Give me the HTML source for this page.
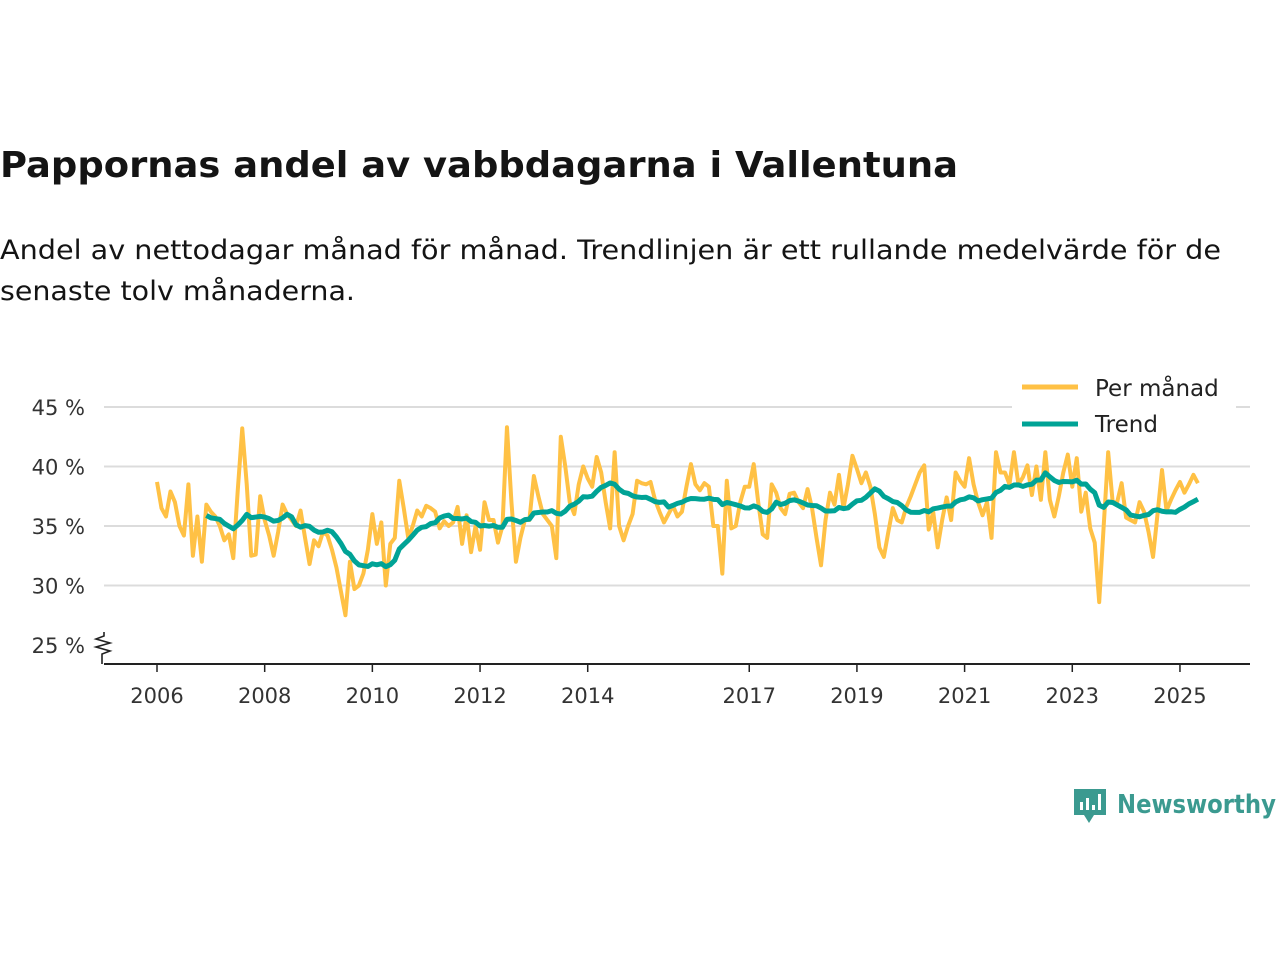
<!DOCTYPE html>
<html><head><meta charset="utf-8"><style>
html,body{margin:0;padding:0;background:#fff;}
svg text{font-family:"DejaVu Sans","Liberation Sans",sans-serif;}
</style></head><body>
<svg id="chart" width="1280" height="960" viewBox="0 0 1280 960" xmlns="http://www.w3.org/2000/svg">
<text x="0" y="177" font-size="36" font-weight="bold" fill="#141414" textLength="958" lengthAdjust="spacingAndGlyphs">Pappornas andel av vabbdagarna i Vallentuna</text>
<text x="0" y="259" font-size="27" fill="#141414" textLength="1221" lengthAdjust="spacingAndGlyphs">Andel av nettodagar månad för månad. Trendlinjen är ett rullande medelvärde för de</text>
<text x="0" y="300" font-size="27" fill="#141414" textLength="355" lengthAdjust="spacingAndGlyphs">senaste tolv månaderna.</text>
<g id="grid"></g>
<g id="yticks"></g>
<g id="xticks"></g>
<g id="series"></g>
<g>
<rect x="1012" y="368" width="224" height="72" fill="#fff"/>
<line x1="1022" y1="387" x2="1078" y2="387" stroke="#ffc145" stroke-width="5"/>
<text x="1095" y="396" font-size="23" fill="#222">Per månad</text>
<line x1="1022" y1="424" x2="1078" y2="424" stroke="#00a396" stroke-width="5"/>
<text x="1095" y="432" font-size="23" fill="#222">Trend</text>
</g>
<g>
<path d="M1074 789 h32 v26 h-12 l-5 8 l-5 -8 h-10 z" fill="#3b9a90"/>
<rect x="1080" y="802" width="3" height="8" fill="#fff"/><rect x="1086" y="798" width="3" height="12" fill="#fff"/><rect x="1092" y="805" width="3" height="5" fill="#fff"/><rect x="1098" y="794" width="3" height="16" fill="#fff"/>
<text x="1117" y="813" font-size="26" font-weight="bold" fill="#3b9a90" textLength="159" lengthAdjust="spacingAndGlyphs">Newsworthy</text>
</g>
</svg>
<script>
const yTickValues=[25,30,35,40,45];
const xTickYears=[2006,2008,2010,2012,2014,2017,2019,2021,2023,2025];
const startYear=2006;
const monthly=[
38.7,36.5,35.8,37.9,37.0,35.0,34.2,38.5,32.5,35.8,32.0,36.8,
36.2,35.8,35.0,33.8,34.3,32.3,38.0,43.2,38.5,32.5,32.6,37.5,
35.5,34.2,32.5,34.5,36.8,36.0,35.5,35.0,36.3,34.0,31.8,33.8,
33.3,34.5,34.2,33.0,31.5,29.5,27.5,32.0,29.7,30.0,31.0,33.0,
36.0,33.5,35.3,30.0,33.5,34.0,38.8,36.5,34.0,35.0,36.3,35.8,
36.7,36.5,36.2,34.8,35.4,35.0,35.3,36.6,33.5,35.9,32.8,35.0,
33.0,37.0,35.5,35.5,33.6,35.0,43.3,37.0,32.0,34.0,35.5,35.5,
39.2,37.5,36.0,35.5,35.0,32.3,42.5,40.0,37.0,36.0,38.5,40.0,
39.0,38.3,40.8,39.5,37.0,34.8,41.2,35.0,33.8,35.0,36.0,38.8,
38.6,38.5,38.7,37.2,36.2,35.3,36.0,36.7,35.8,36.2,38.3,40.2,
38.5,38.0,38.6,38.3,35.0,35.0,31.0,38.8,34.8,35.0,37.0,38.3,
38.3,40.2,37.0,34.3,34.0,38.5,37.8,36.5,36.0,37.7,37.8,37.0,
36.5,38.1,36.5,34.0,31.7,35.5,37.8,36.8,39.3,36.5,38.5,40.9,
39.8,38.6,39.5,38.3,36.0,33.2,32.4,34.5,36.5,35.5,35.3,36.6,
37.5,38.5,39.5,40.1,34.7,36.2,33.2,35.5,37.4,35.5,39.5,38.8,
38.3,40.7,38.5,37.0,35.9,37.0,34.0,41.2,39.5,39.5,38.5,41.2,
38.5,39.1,40.1,37.6,40.0,37.2,41.2,37.2,35.8,37.5,39.5,41.0,
38.3,40.7,36.2,37.8,34.8,33.6,28.6,35.0,41.2,37.0,37.0,38.6,
35.7,35.5,35.3,37.0,36.2,34.5,32.4,36.0,39.7,36.3,37.2,38.0,
38.7,37.8,38.5,39.3,38.6];
const NS="http://www.w3.org/2000/svg";
function xScale(t){return 157+(t-2006)*53.84;}
function yScale(v){return 645-(v-25)*11.9;}
function mk(tag,attrs,parent){const e=document.createElementNS(NS,tag);for(const k in attrs)e.setAttribute(k,attrs[k]);parent.appendChild(e);return e;}
const grid=document.getElementById('grid'),yt=document.getElementById('yticks'),xt=document.getElementById('xticks'),ser=document.getElementById('series');
yTickValues.forEach(v=>{
  if(v>25){const g=mk('line',{x1:104,x2:1250,y1:yScale(v),y2:yScale(v),stroke:'#dcdcdc','stroke-width':2},grid);
  
  }
  const t=mk('text',{x:85,y:yScale(v)+8,'font-size':21,fill:'#333','text-anchor':'end'},yt);t.textContent=v+' %';
  
  
});
const zz=mk('path',{d:'M104 632 v4 l-8 3 l14 4 l-14 4 l14 4 l-8 3 v10',fill:'none',stroke:'#222','stroke-width':1.6},yt);


const ax=mk('line',{x1:104,x2:1250,y1:664,y2:664,stroke:'#222','stroke-width':2},xt);


xTickYears.forEach(y=>{
  const x=xScale(y);
  mk('line',{x1:x,x2:x,y1:664,y2:672,stroke:'#222','stroke-width':1.5},xt);
  const t=mk('text',{x:x,y:703,'font-size':21,fill:'#333','text-anchor':'middle'},xt);t.textContent=y;
  
  
});
const pts=monthly.map((v,i)=>[xScale(startYear+i/12),yScale(v)]);
const p1=mk('polyline',{points:pts.map(p=>p.join(',')).join(' '),fill:'none',stroke:'#ffc145','stroke-width':4,'stroke-linejoin':'round'},ser);


const tp=[];
for(let i=11;i<monthly.length;i++){let s=0;for(let j=i-11;j<=i;j++)s+=monthly[j];tp.push([xScale(startYear+i/12),yScale(s/12)]);}
const p2=mk('polyline',{points:tp.map(p=>p.join(',')).join(' '),fill:'none',stroke:'#00a396','stroke-width':5,'stroke-linejoin':'round'},ser);


</script>
</body></html>
